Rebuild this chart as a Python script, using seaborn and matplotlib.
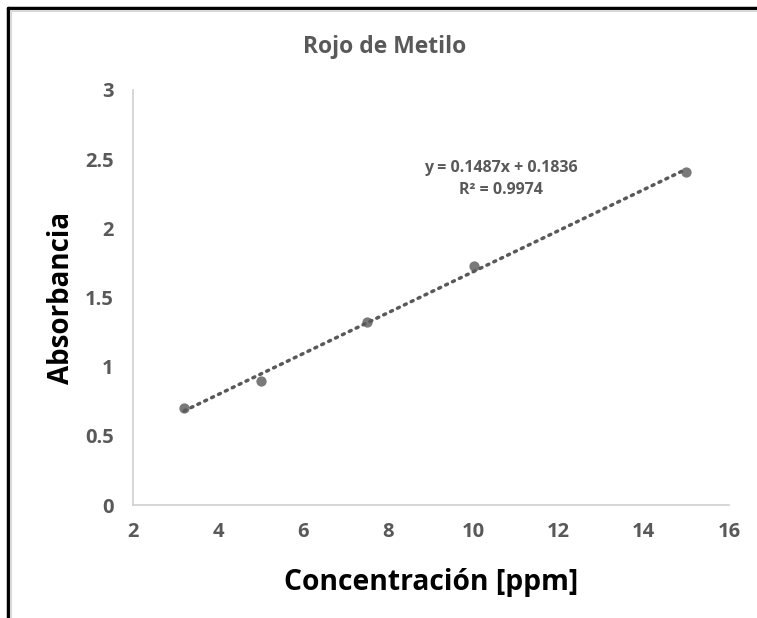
import matplotlib
matplotlib.use('Agg')
import matplotlib.pyplot as plt
import seaborn as sns
import pandas as pd
from matplotlib.lines import Line2D

# data
concentracion = [3.2, 5.0, 7.5, 10.0, 15.0]
absorbancia = [0.70, 0.90, 1.32, 1.73, 2.41]
x_ticks = [2, 4, 6, 8, 10, 12, 14, 16]
y_ticks = [0, 0.5, 1, 1.5, 2, 2.5, 3]
y_tick_labels = ['0', '0.5', '1', '1.5', '2', '2.5', '3']
ecuacion = 'y = 0.1487x + 0.1836'
r2 = 'R² = 0.9974'

df = pd.DataFrame({'conc': concentracion, 'abs': absorbancia})

sns.set_style('white')
plt.rcParams['font.family'] = ['Open Sans', 'DejaVu Sans']

gris = '#595959'
fig = plt.figure(figsize=(7.57, 6.18), dpi=100)
ax = fig.add_axes([0.1757, 0.1828, 0.7873, 0.6716])

sns.regplot(data=df, x='conc', y='abs', ax=ax, ci=None, truncate=True,
            scatter_kws={'s': 55, 'color': gris, 'zorder': 3, 'linewidths': 0},
            line_kws={'color': gris, 'linestyle': (0, (0.6, 1.6)), 'linewidth': 2.5,
                      'dash_capstyle': 'round'})

ax.set_xlim(2, 16)
ax.set_ylim(0, 3)
ax.set_xticks(x_ticks)
ax.set_xticklabels([str(t) for t in x_ticks])
ax.set_yticks(y_ticks)
ax.set_yticklabels(y_tick_labels)
ax.tick_params(length=0, labelsize=14.5, labelcolor=gris, pad=12)
ax.tick_params(axis='y', pad=14)
for lab in ax.get_xticklabels() + ax.get_yticklabels():
    lab.set_fontweight('bold')

for s in ['top', 'right']:
    ax.spines[s].set_visible(False)
for s in ['left', 'bottom']:
    ax.spines[s].set_color('#d0d0d0')
    ax.spines[s].set_linewidth(1.2)

ax.set_xlabel('Concentración [ppm]', fontsize=20.3, fontweight='bold', color='black', labelpad=19)
ax.set_ylabel('Absorbancia', fontsize=20, fontweight='bold', color='black', labelpad=6)

# chart title is centred on the whole chart area, like Excel does
fig.text(385 / 757, 1 - 47 / 618, 'Rojo de Metilo', ha='center', va='center',
         fontsize=16.5, fontweight='bold', color=gris)

ax.text(501 / 757, 1 - 179 / 618, ecuacion + '\n' + r2, transform=fig.transFigure,
        ha='center', va='center', fontsize=11.5, fontweight='bold', color=gris,
        linespacing=1.5)

# frame of the screenshot
fig.add_artist(Line2D([8 / 757, 8 / 757], [0, 1 - 8 / 618], color='black', lw=2.5, transform=fig.transFigure))
fig.add_artist(Line2D([8 / 757, 1], [1 - 8 / 618, 1 - 8 / 618], color='black', lw=2.5, transform=fig.transFigure))
fig.add_artist(Line2D([11 / 757, 11 / 757], [0, 1 - 11 / 618], color='#d9d9d9', lw=1.5, transform=fig.transFigure))
fig.add_artist(Line2D([11 / 757, 1], [1 - 11 / 618, 1 - 11 / 618], color='#d9d9d9', lw=1.5, transform=fig.transFigure))

fig.savefig('out.png', dpi=100)
